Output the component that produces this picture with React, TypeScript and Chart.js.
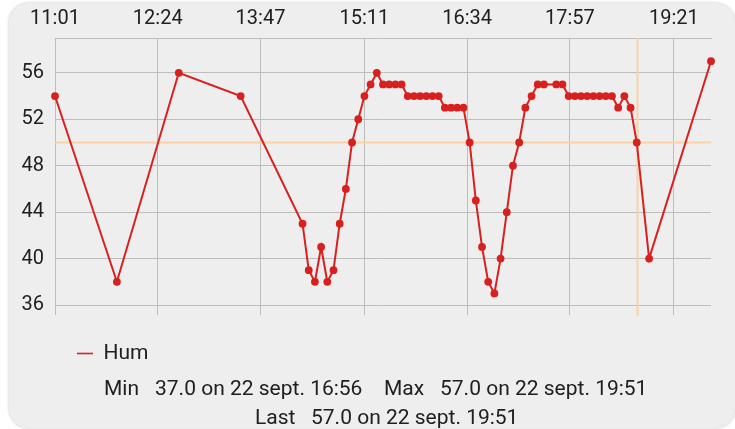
import React, { useEffect, useRef } from "react";
import { Chart, registerables } from "chart.js";

Chart.register(...registerables);

const times = [
  "11:01", "11:51", "12:41", "13:31", "14:21", "14:26", "14:31", "14:36", "14:41", "14:46",
  "14:51", "14:56", "15:01", "15:06", "15:11", "15:16", "15:21", "15:26", "15:31", "15:36",
  "15:41", "15:46", "15:51", "15:56", "16:01", "16:06", "16:11", "16:16", "16:21", "16:26",
  "16:31", "16:36", "16:41", "16:46", "16:51", "16:56", "17:01", "17:06", "17:11", "17:16",
  "17:21", "17:26", "17:31", "17:36", "17:46", "17:51", "17:56", "18:01", "18:06", "18:11",
  "18:16", "18:21", "18:26", "18:31", "18:36", "18:41", "18:46", "18:51", "19:01", "19:51",
];
const hum = [
  54, 38, 56, 54, 43, 39, 38, 41, 38, 39,
  43, 46, 50, 52, 54, 55, 56, 55, 55, 55,
  55, 54, 54, 54, 54, 54, 54, 53, 53, 53,
  53, 50, 45, 41, 38, 37, 40, 44, 48, 50,
  53, 54, 55, 55, 55, 55, 54, 54, 54, 54,
  54, 54, 54, 54, 53, 54, 53, 50, 40, 57,
];
const xTickLabels = ["11:01", "12:24", "13:47", "15:11", "16:34", "17:57", "19:21"];
const yTickValues = [36, 40, 44, 48, 52, 56];
const xRange = ["11:01", "19:51"];
const yRange = [36, 59];
const thresholdValue = 50;
const markerTime = "18:51";
const seriesName = "Hum";

const statLines = [
  [
    { text: "Min", left: 104 },
    { text: "37.0 on 22 sept. 16:56", left: 155 },
    { text: "Max", left: 384 },
    { text: "57.0 on 22 sept. 19:51", left: 440 },
  ],
  [
    { text: "Last", left: 255 },
    { text: "57.0 on 22 sept. 19:51", left: 311 },
  ],
];
const statCenters = [388, 417];

const toMin = (s: string) => {
  const [h, m] = s.split(":").map(Number);
  return h * 60 + m;
};

const RED = "#d8201f";
const GRID = "#bdbdbd";
const ORANGE = "#fcd2a4";
const TEXT = "#202020";
const FONT = { family: "Roboto", size: 20 };
const LEGEND_FONT = { family: "Roboto", size: 21 };

const refLines = {
  id: "refLines",
  beforeDatasetsDraw(chart: any) {
    const { ctx, chartArea, scales } = chart;
    const y = Math.round(scales.y.getPixelForValue(thresholdValue)) + 0.5;
    const x = Math.round(scales.x.getPixelForValue(toMin(markerTime))) + 0.5;
    ctx.save();
    ctx.strokeStyle = ORANGE;
    ctx.lineWidth = 2;
    ctx.beginPath();
    ctx.moveTo(chartArea.left, y);
    ctx.lineTo(chartArea.right, y);
    ctx.moveTo(x, chartArea.top);
    ctx.lineTo(x, chartArea.bottom + 11);
    ctx.stroke();
    ctx.restore();
  },
};

export default function App() {
  const ref = useRef<HTMLCanvasElement | null>(null);

  useEffect(() => {
    if (!ref.current) return;
    const xTicks = () => xTickLabels.map((l) => ({ value: toMin(l) }));
    const chart = new Chart(ref.current, {
      type: "line",
      data: {
        datasets: [
          {
            label: seriesName,
            data: times.map((t, i) => ({ x: toMin(t), y: hum[i] })),
            borderColor: RED,
            backgroundColor: RED,
            borderWidth: 2,
            pointRadius: 3.1,
            pointBorderWidth: 1.6,
            pointBackgroundColor: RED,
            pointBorderColor: RED,
            tension: 0,
            clip: false,
          },
        ],
      },
      options: {
        responsive: false,
        animation: false,
        devicePixelRatio: 1,
        layout: { padding: { left: 8, right: 24, top: 0, bottom: 0 } },
        scales: {
          x: {
            type: "linear",
            position: "bottom",
            min: toMin(xRange[0]),
            max: toMin(xRange[1]),
            afterBuildTicks: (s: any) => {
              s.ticks = xTicks();
            },
            ticks: { display: false },
            grid: { color: GRID, lineWidth: 1, drawTicks: true, tickLength: 10, tickColor: GRID },
            border: { display: false },
            afterFit: (s: any) => {
              s.height = 16;
            },
          },
          x2: {
            type: "linear",
            position: "top",
            min: toMin(xRange[0]),
            max: toMin(xRange[1]),
            afterBuildTicks: (s: any) => {
              s.ticks = xTicks();
            },
            ticks: {
              callback: (_v: any, i: number) => xTickLabels[i],
              font: FONT,
              color: TEXT,
              padding: 7,
              maxRotation: 0,
              autoSkip: false,
            },
            grid: { display: false, drawTicks: false },
            border: { display: true, color: GRID },
            afterFit: (s: any) => {
              s.height = 38;
            },
          },
          y: {
            type: "linear",
            min: yRange[0],
            max: yRange[1],
            afterBuildTicks: (s: any) => {
              s.ticks = yTickValues.map((v) => ({ value: v }));
            },
            ticks: { font: FONT, color: TEXT, padding: 11 },
            grid: { color: GRID, lineWidth: 1, drawTicks: false },
            border: { display: true, color: GRID },
            afterFit: (s: any) => {
              s.width = 47;
            },
          },
        },
        plugins: {
          legend: {
            position: "bottom",
            align: "start",
            fullSize: false,
            labels: {
              usePointStyle: true,
              pointStyle: "line",
              pointStyleWidth: 16,
              padding: 22,
              font: LEGEND_FONT,
              color: TEXT,
            },
          },
          tooltip: { enabled: false },
        },
      },
      plugins: [refLines],
    } as any);
    return () => chart.destroy();
  }, []);

  return (
    <div>
      <div
        style={{
          position: "fixed",
          left: 9,
          top: 3,
          width: 726,
          height: 425,
          borderRadius: 20,
          background: "#eeeeee",
          boxShadow: "0 0 3px rgba(0,0,0,0.25)",
        }}
      />
      <canvas
        ref={ref}
        width={735}
        height={374}
        style={{ position: "fixed", left: 0, top: 0, width: 735, height: 374, display: "block" }}
      />
      {statLines.map((line, li) =>
        line.map((seg, si) => (
          <span
            key={`${li}-${si}`}
            style={{
              position: "fixed",
              left: seg.left,
              top: statCenters[li] - 12,
              lineHeight: "24px",
              fontFamily: "Roboto",
              fontSize: 21,
              color: TEXT,
              whiteSpace: "pre",
            }}
          >
            {seg.text}
          </span>
        ))
      )}
    </div>
  );
}
